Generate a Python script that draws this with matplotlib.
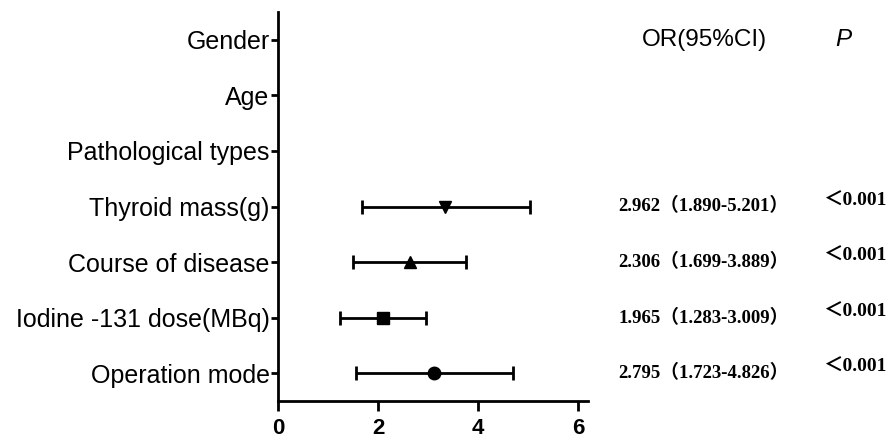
import matplotlib.pyplot as plt

# Factor labels (top to bottom)
factors = ['Gender', 'Age', 'Pathological types', 'Thyroid mass(g)',
           'Course of disease', 'Iodine -131 dose(MBq)', 'Operation mode']

# Plotted estimates and CI bounds (only last four factors have values)
plotted = ['Thyroid mass(g)', 'Course of disease', 'Iodine -131 dose(MBq)', 'Operation mode']
or_point = [3.35, 2.65, 2.11, 3.13]
ci_low = [1.68, 1.49, 1.23, 1.56]
ci_high = [5.04, 3.77, 2.96, 4.70]
markers = ['v', '^', 's', 'o']

# Text columns
or_text = ['2.962（1.890-5.201）', '2.306（1.699-3.889）',
           '1.965（1.283-3.009）', '2.795（1.723-4.826）']
p_text = ['＜0.001', '＜0.001', '＜0.001', '＜0.001']
x_ticks = [0, 2, 4, 6]


def main():
    fig = plt.figure(figsize=(8.89, 4.4), dpi=100)
    ax = fig.add_axes([278 / 889, 1 - 401 / 440, 310 / 889, 389 / 440])

    ypos = {f: i for i, f in enumerate(factors)}
    for name, est, lo, hi, m in zip(plotted, or_point, ci_low, ci_high, markers):
        y = ypos[name]
        ax.errorbar(est, y, xerr=[[est - lo], [hi - est]], fmt=m, color='black',
                    ecolor='black', elinewidth=2, capsize=5, capthick=2,
                    markersize=9)

    ax.set_xlim(0, 6.2)
    ax.set_ylim(len(factors) - 0.5, -0.5)
    ax.set_yticks(range(len(factors)))
    ax.set_yticklabels(factors, fontsize=18, family=['Liberation Sans', 'DejaVu Sans'])
    ax.set_xticks(x_ticks)
    ax.set_xticklabels([str(t) for t in x_ticks], fontsize=16, fontweight='bold',
                       family=['Liberation Sans Narrow', 'Liberation Sans', 'DejaVu Sans'])

    for side in ['top', 'right']:
        ax.spines[side].set_visible(False)
    for side in ['left', 'bottom']:
        ax.spines[side].set_linewidth(2)
    ax.tick_params(axis='y', length=5, width=2, pad=1)
    ax.tick_params(axis='x', length=7, width=2, pad=5)

    # Right-hand columns
    fig.text(704 / 889, 1 - 40 / 440, 'OR(95%CI)', ha='center', va='center',
             fontsize=17.5, family=['Liberation Sans', 'DejaVu Sans'])
    fig.text(843 / 889, 1 - 40 / 440, 'P', ha='center', va='center',
             fontsize=17.5, style='italic', family=['Liberation Sans', 'DejaVu Sans'])
    for name, ot, pt in zip(plotted, or_text, p_text):
        y = ypos[name]
        ax.annotate(ot, xy=(618 / 889, y), xycoords=('figure fraction', 'data'),
                    ha='left', va='center', fontsize=13.5, fontweight='bold',
                    family=['Liberation Serif', 'Noto Sans CJK SC'],
                    annotation_clip=False)
        ax.annotate(pt, xy=(886 / 889, y), xycoords=('figure fraction', 'data'),
                    xytext=(0, 4), textcoords='offset points',
                    ha='right', va='center', fontsize=14, fontweight='bold',
                    family=['Liberation Serif', 'Noto Sans CJK SC'],
                    annotation_clip=False)

    fig.savefig('out.png', dpi=100)


if __name__ == '__main__':
    main()
